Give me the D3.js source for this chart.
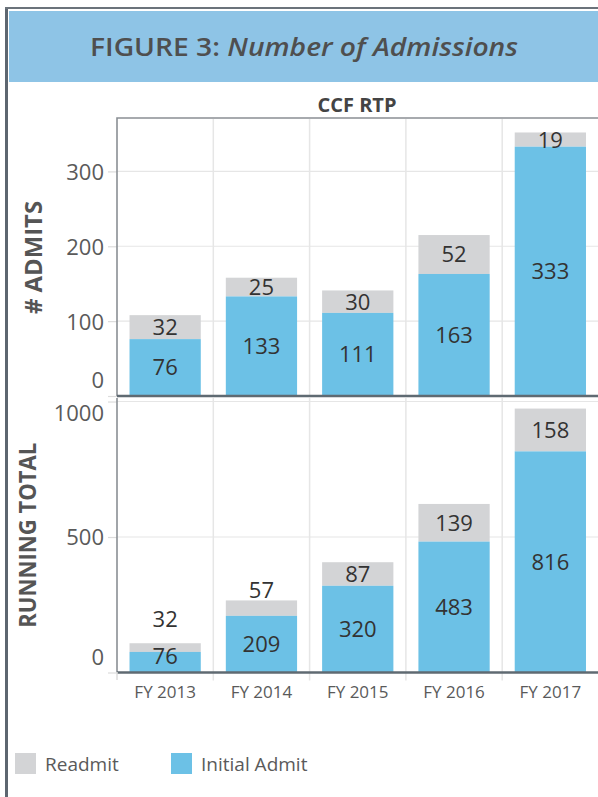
<!DOCTYPE html>
<html>
<head>
<meta charset="utf-8">
<script src="https://cdn.jsdelivr.net/npm/d3@7"></script>
<style>
  body { margin: 0; background: #fff; }
  svg { display: block; font-family: "Open Sans", sans-serif; }
</style>
</head>
<body>
<div id="chart"></div>
<script>
// values
const years = ["FY 2013", "FY 2014", "FY 2015", "FY 2016", "FY 2017"];
const initialAdmits = [76, 133, 111, 163, 333];
const readmits = [32, 25, 30, 52, 19];
const runningInitial = [76, 209, 320, 483, 816];
const runningReadmit = [32, 57, 87, 139, 158];
const admitTicks = [0, 100, 200, 300];
const runningTicks = [0, 500, 1000];
const legendItems = ["Readmit", "Initial Admit"];

const width = 598, height = 797;
const blue = "#6cc1e6", gray = "#d3d4d6";

const svg = d3.select("#chart").append("svg")
    .attr("width", width)
    .attr("height", height);

// page frame + title band
svg.append("line").attr("x1", 6.5).attr("x2", 6.5).attr("y1", 7).attr("y2", height)
    .attr("stroke", "#5d6670").attr("stroke-width", 3);
svg.append("line").attr("x1", 5).attr("x2", width).attr("y1", 8).attr("y2", 8)
    .attr("stroke", "#6b737b").attr("stroke-width", 2);
svg.append("rect").attr("x", 9).attr("y", 11).attr("width", width - 9).attr("height", 71)
    .attr("fill", "#8ec4e6");

const title = svg.append("text")
    .attr("x", 304).attr("y", 56)
    .attr("text-anchor", "middle")
    .attr("font-size", 25)
    .attr("font-weight", 600)
    .attr("fill", "#4f4f4f")
    .attr("textLength", 428)
    .attr("lengthAdjust", "spacingAndGlyphs");
title.append("tspan").text("FIGURE 3: ");
title.append("tspan").attr("font-style", "italic").text("Number of Admissions");

svg.append("text")
    .attr("x", 357).attr("y", 112)
    .attr("text-anchor", "middle")
    .attr("font-size", 20).attr("font-weight", "bold")
    .attr("fill", "#444")
    .text("CCF RTP");

const x = d3.scaleBand()
    .domain(years)
    .range([117, 598.5])
    .paddingInner(0.26)
    .paddingOuter(0.13);

// band boundaries (column separators)
const seps = years.slice(1).map(d => x(d) - x.paddingInner() * x.step() / 2);

function drawPanel(cfg) {
    const y = d3.scaleLinear().domain(cfg.domain).range([cfg.bottom, cfg.top]);
    const g = svg.append("g");

    // horizontal gridlines
    g.selectAll(".hgrid")
        .data(cfg.ticks.filter(t => t !== 0))
        .enter().append("line")
        .attr("x1", 117).attr("x2", width)
        .attr("y1", d => y(d)).attr("y2", d => y(d))
        .attr("stroke", "#e6e6e6").attr("stroke-width", 1.2);

    // vertical gridlines
    g.selectAll(".vgrid")
        .data(seps)
        .enter().append("line")
        .attr("x1", d => d).attr("x2", d => d)
        .attr("y1", cfg.top).attr("y2", cfg.bottom + cfg.tickBelow)
        .attr("stroke", "#e6e6e6").attr("stroke-width", 1.5);

    // y axis
    const axis = g.append("g")
        .attr("transform", "translate(117,0)")
        .call(d3.axisLeft(y).tickValues(cfg.ticks).tickFormat(d3.format("d"))
            .tickSize(9).tickPadding(4));
    axis.select(".domain").remove();
    axis.selectAll(".tick line").attr("stroke", "#dcdcdc").attr("stroke-width", 1.2);
    axis.selectAll(".tick text")
        .attr("font-size", 22)
        .attr("fill", "#5a5a5a")
        .attr("font-family", "Open Sans, sans-serif")
        .attr("dy", "0.36em")
        .attr("y", d => {
            const p = y(d);
            return Math.max(Math.min(p, cfg.bottom - 16), cfg.top + 15) - p;
        });

    // stacked bars
    const rows = years.map((yr, i) => ({
        yr, init: cfg.initial[i], re: cfg.readmit[i]
    }));
    const bars = g.selectAll(".bar").data(rows).enter().append("g");
    bars.append("rect")
        .attr("x", d => x(d.yr)).attr("width", x.bandwidth())
        .attr("y", d => y(d.init + d.re))
        .attr("height", d => y(d.init) - y(d.init + d.re))
        .attr("fill", gray);
    bars.append("rect")
        .attr("x", d => x(d.yr)).attr("width", x.bandwidth())
        .attr("y", d => y(d.init))
        .attr("height", d => y(0) - y(d.init))
        .attr("fill", blue);

    // labels
    rows.forEach(d => {
        const initY = Math.min((y(0) + y(d.init)) / 2, cfg.bottom - 16);
        const segH = y(d.init) - y(d.init + d.re);
        let reY = (y(d.init) + y(d.init + d.re)) / 2;
        if (cfg.labelsAbove && segH < 18) {
            reY = Math.min(y(d.init + d.re) - 10, initY - 37);
        }
        d.initY = initY;
        d.reY = reY;
    });
    bars.append("text")
        .attr("x", d => x(d.yr) + x.bandwidth() / 2)
        .attr("y", d => d.initY)
        .attr("dy", "0.36em")
        .text(d => d.init);
    bars.append("text")
        .attr("x", d => x(d.yr) + x.bandwidth() / 2)
        .attr("y", d => d.reY)
        .attr("dy", "0.36em")
        .text(d => d.re);
    bars.selectAll("text")
        .attr("text-anchor", "middle")
        .attr("font-size", 22)
        .attr("fill", "#333");

    // frame / baseline
    if (cfg.frame) {
        g.append("path")
            .attr("d", `M117,${cfg.bottom}V${cfg.top - 1}H${width}`)
            .attr("fill", "none").attr("stroke", "#8a8f94").attr("stroke-width", 1.6);
    } else {
        g.append("line").attr("x1", 117).attr("x2", 117)
            .attr("y1", cfg.top).attr("y2", cfg.bottom)
            .attr("stroke", "#8a8f94").attr("stroke-width", 1.6);
    }
    g.append("line")
        .attr("x1", 117).attr("x2", width)
        .attr("y1", cfg.bottom).attr("y2", cfg.bottom)
        .attr("stroke", "#5f6a72").attr("stroke-width", 2.5);

    // axis title
    g.append("text")
        .attr("transform", `translate(${cfg.titleX},${(cfg.top + cfg.bottom) / 2}) rotate(-90)`)
        .attr("text-anchor", "middle")
        .attr("dy", "0.36em")
        .attr("font-size", 23).attr("font-weight", "bold")
        .attr("fill", "#555")
        .attr("textLength", cfg.titleLen)
        .attr("lengthAdjust", "spacingAndGlyphs")
        .text(cfg.title);

    return y;
}

drawPanel({
    top: 119, bottom: 396, domain: [0, 370], ticks: admitTicks,
    initial: initialAdmits, readmit: readmits,
    labelsAbove: false, frame: true, tickBelow: 0,
    title: "# ADMITS", titleX: 34, titleLen: 113
});

drawPanel({
    top: 398, bottom: 672.5, domain: [0, 1013], ticks: runningTicks,
    initial: runningInitial, readmit: runningReadmit,
    labelsAbove: true, frame: false, tickBelow: 8,
    title: "RUNNING TOTAL", titleX: 28, titleLen: 185
});

// x labels
svg.selectAll(".xlab")
    .data(years)
    .enter().append("text")
    .attr("x", d => x(d) + x.bandwidth() / 2)
    .attr("y", 691.5)
    .attr("dy", "0.36em")
    .attr("text-anchor", "middle")
    .attr("font-size", 17)
    .attr("fill", "#5a5a5a")
    .text(d => d);

// small tick at left edge of x axis
svg.append("line").attr("x1", 117).attr("x2", 117).attr("y1", 672).attr("y2", 680)
    .attr("stroke", "#dcdcdc").attr("stroke-width", 1.5);

// legend
const legendX = [15, 171];
const legend = svg.selectAll(".leg")
    .data(legendItems)
    .enter().append("g")
    .attr("transform", (d, i) => `translate(${legendX[i]},753)`);
legend.append("rect")
    .attr("width", 21).attr("height", 21)
    .attr("fill", (d, i) => i === 0 ? gray : blue);
legend.append("text")
    .attr("x", 30).attr("y", 11)
    .attr("dy", "0.36em")
    .attr("font-size", 19)
    .attr("fill", "#5a5a5a")
    .text(d => d);
</script>
</body>
</html>
